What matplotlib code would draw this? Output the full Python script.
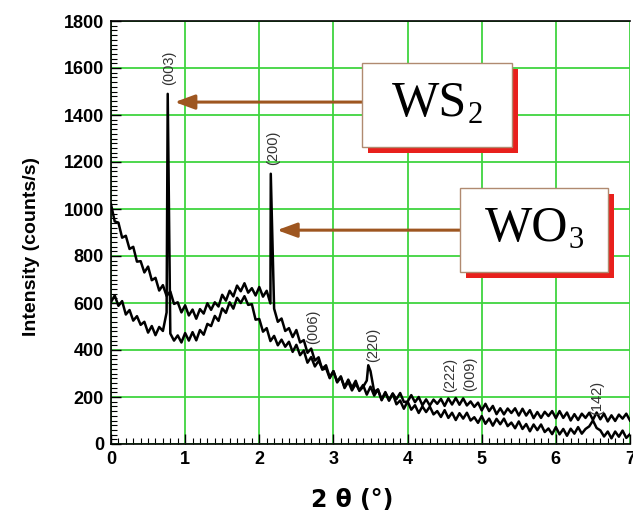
import numpy as np
import matplotlib
matplotlib.use('Agg')
import matplotlib.pyplot as plt
from matplotlib.patches import Rectangle

# 2theta sampling used for both scans (step 0.05 deg)
two_theta = np.linspace(0, 7, 141)

# WO3 scan (starts near 1000, (200) reflection at ~2.15)
wo3_counts = [
    1020, 947, 942, 878, 886, 830, 839, 776, 778, 730,
    755, 697, 707, 653, 676, 630, 649, 596, 603, 560,
    590, 547, 572, 533, 574, 555, 599, 571, 603, 585,
    635, 610, 652, 628, 674, 650, 684, 644, 663, 632,
    668, 627, 652, 598, 576, 520, 534, 481, 493, 455,
    485, 432, 442, 388, 406, 355, 369, 316, 323, 280,
    310, 262, 284, 243, 274, 240, 269, 226, 243, 270,
    310, 222, 232, 190, 221, 188, 214, 169, 185, 150,
    181, 146, 165, 132, 160, 136, 159, 126, 140, 115,
    144, 111, 133, 102, 131, 108, 133, 100, 114, 90,
    119, 86, 108, 78, 107, 84, 108, 76, 91, 67,
    96, 64, 85, 54, 83, 59, 83, 51, 66, 42,
    72, 41, 64, 35, 65, 44, 72, 44, 64, 75,
    100, 68, 58, 32, 53, 24, 53, 31, 57, 26,
    42,
]
wo3_peak_x = [2.155, 3.47]
wo3_peak_y = [1150, 335]

# WS2 scan (starts near 620, (003) reflection at ~0.765)
ws2_counts = [
    604, 632, 588, 608, 551, 570, 525, 544, 507, 520,
    474, 502, 463, 498, 481, 560, 470, 440, 462, 432,
    472, 440, 476, 441, 485, 465, 511, 502, 545, 524,
    577, 558, 603, 576, 622, 600, 629, 592, 595, 529,
    532, 478, 493, 438, 460, 420, 444, 414, 435, 392,
    422, 378, 398, 346, 370, 330, 354, 320, 335, 284,
    310, 266, 288, 238, 265, 228, 256, 228, 251, 210,
    244, 206, 232, 186, 217, 184, 215, 191, 217, 179,
    180, 208, 178, 200, 165, 190, 164, 189, 171, 192,
    162, 194, 168, 196, 167, 194, 164, 181, 158, 176,
    143, 171, 140, 162, 127, 152, 126, 151, 132, 152,
    121, 150, 121, 144, 110, 136, 111, 137, 119, 140,
    110, 140, 111, 134, 100, 127, 102, 129, 111, 133,
    103, 134, 105, 129, 96, 122, 98, 125, 108, 129,
    100,
]
ws2_peak_x = [0.765]
ws2_peak_y = [1490]

# Miller index labels: (text, 2theta, intensity at label centre)
hkl_labels = ['(003)', '(200)', '(006)', '(220)', '(222)', '(009)', '(142)']
hkl_x = [0.79, 2.19, 2.73, 3.54, 4.57, 4.84, 6.56]
hkl_y = [1600, 1262, 498, 420, 295, 297, 198]

GRID_GREEN = '#3fd43f'
ARROW_BROWN = '#9e5620'


def merge(xs, ys, px, py):
    x = np.concatenate([xs, px])
    y = np.concatenate([ys, py])
    order = np.argsort(x, kind='stable')
    return x[order], y[order]


def phase_box(ax, x0, x1, y0, y1, formula, sub, arrow_to):
    # red drop shadow, white box, then the text
    dx, dy = 0.08, 25
    ax.add_patch(Rectangle((x0 + dx, y0 - dy), x1 - x0, y1 - y0,
                           facecolor='#e8201c', edgecolor='none', zorder=5))
    ax.add_patch(Rectangle((x0, y0), x1 - x0, y1 - y0,
                           facecolor='white', edgecolor='#b08a70', lw=1.0, zorder=6))
    main_txt = ax.text((x0 + x1) / 2 - 0.1, (y0 + y1) / 2 + 5, formula,
                       ha='center', va='center', fontsize=36,
                       family='Liberation Serif', zorder=7)
    ax.annotate(sub, xy=(1, 0), xycoords=main_txt, xytext=(0, 8),
                textcoords='offset points', ha='left', va='center',
                fontsize=22, family='Liberation Serif', zorder=7)
    ax.annotate('', xy=arrow_to, xytext=(x0, arrow_to[1]),
                arrowprops=dict(arrowstyle='-|>,head_length=0.6,head_width=0.22',
                                mutation_scale=20, lw=2.2, color=ARROW_BROWN,
                                shrinkA=0, shrinkB=0),
                zorder=4)


def main():
    fig = plt.figure(figsize=(6.33, 5.15), dpi=100)
    ax = fig.add_axes([111 / 633, 71 / 515, 519 / 633, 423 / 515])

    x1, y1 = merge(two_theta, np.array(wo3_counts, float), wo3_peak_x, wo3_peak_y)
    x2, y2 = merge(two_theta, np.array(ws2_counts, float), ws2_peak_x, ws2_peak_y)
    ax.plot(x1, y1, color='black', lw=1.8, zorder=3)
    ax.plot(x2, y2, color='black', lw=1.8, zorder=3)

    for t, xx, yy in zip(hkl_labels, hkl_x, hkl_y):
        ax.text(xx, yy, t, rotation=90, ha='center', va='center',
                fontsize=10.5, color='#333333', family='Liberation Sans', zorder=4)

    phase_box(ax, 3.39, 5.41, 1264, 1621, 'WS', '2', (0.86, 1455))
    phase_box(ax, 4.71, 6.71, 732, 1089, 'WO', '3', (2.24, 910))

    ax.set_xlim(0, 7)
    ax.set_ylim(0, 1800)
    ax.set_xticks(range(0, 8))
    ax.set_yticks(range(0, 1801, 200))
    ax.set_xticks(np.arange(0, 7.01, 0.1), minor=True)
    ax.set_yticks(np.arange(0, 1801, 20), minor=True)
    ax.grid(True, which='major', color=GRID_GREEN, lw=1.3, zorder=0)
    ax.set_axisbelow(True)
    ax.tick_params(which='both', direction='in', top=False, right=False, color='black')
    ax.tick_params(which='major', length=7, width=1.0, pad=5)
    ax.tick_params(which='minor', length=4, width=0.8)
    for lab in ax.get_xticklabels() + ax.get_yticklabels():
        lab.set_fontfamily('Liberation Sans')
        lab.set_fontweight('bold')
        lab.set_fontsize(13)
    ax.spines['right'].set_visible(False)
    for s in ('left', 'bottom', 'top'):
        ax.spines[s].set_linewidth(1.2)

    fig.text(32 / 633, 1 - 247 / 515, 'Intensity (counts/s)', rotation=90,
             ha='center', va='center', fontsize=14, fontweight='bold',
             family='Liberation Sans')
    fig.text(352 / 633, 1 - 500 / 515, '2 θ (°)', ha='center', va='center',
             fontsize=17, fontweight='bold', family='DejaVu Sans')

    fig.savefig('out.png', dpi=100)


if __name__ == '__main__':
    main()
